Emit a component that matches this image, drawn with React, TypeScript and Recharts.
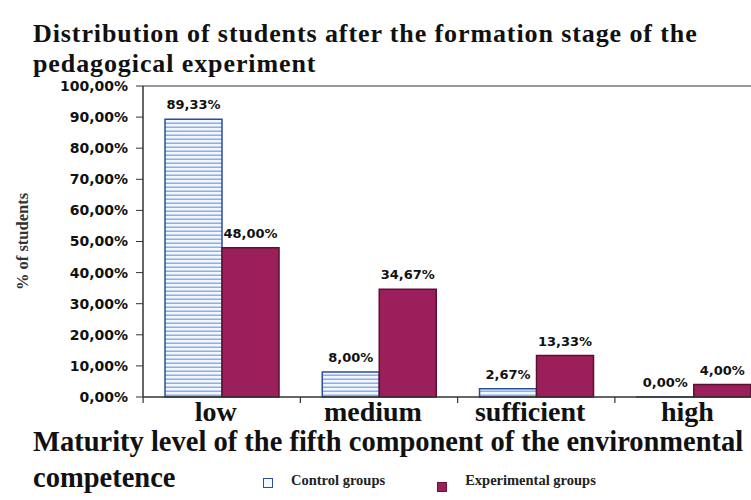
import React from "react";
import { BarChart, Bar, XAxis, YAxis, LabelList, Legend, ReferenceLine } from "recharts";

// maturity levels and the share of students (%) in each group
const levels = ["low", "medium", "sufficient", "high"];
const controlGroups = [89.33, 8.0, 2.67, 0.0];
const experimentalGroups = [48.0, 34.67, 13.33, 4.0];
const yTicks = [0, 10, 20, 30, 40, 50, 60, 70, 80, 90, 100];

const data = levels.map((level, i) => ({
  level,
  control: controlGroups[i],
  experimental: experimentalGroups[i],
}));

const pct = (v: number) => v.toFixed(2).replace(".", ",") + "%";

const serif = "'Liberation Serif', 'Times New Roman', serif";
const heavy = "'DejaVu Sans', sans-serif";

// category label plus a small tick mark on the left edge of each band
const LevelTick = ({ x, y, payload }: any) => (
  <g>
    <line x1={x - 78.5} x2={x - 78.5} y1={y} y2={y + 6} stroke="#333" strokeWidth={1.2} />
    <text x={x - 6} y={y + 24} textAnchor="middle" fontFamily={serif} fontWeight={700} fontSize={28} fill="#111">
      {payload.value}
    </text>
  </g>
);

const LegendBox = ({ payload }: any) => (
  <div style={{ display: "flex", alignItems: "center", fontFamily: serif, fontWeight: 700, fontSize: 14.5, color: "#222" }}>
    {(payload || []).map((p: any, i: number) => (
      <div key={p.value} style={{ display: "flex", alignItems: "center", marginRight: i === 0 ? 52 : 0 }}>
        <span
          style={{
            display: "inline-block",
            width: 8,
            height: 8,
            marginTop: i === 0 ? 6 : 14,
            marginRight: 18,
            background: i === 0 ? "#f4f8ff" : "#9b1f5a",
            border: i === 0 ? "1.5px solid #2b4f94" : "1px solid #6a1238",
          }}
        />
        <span>{p.value}</span>
      </div>
    ))}
  </div>
);

const labelStyle = { fontFamily: heavy, fontWeight: 900, fontSize: 13, fill: "#111" };

export default function App() {
  return (
    <div style={{ position: "absolute", left: 0, top: 0, width: 751, height: 500, overflow: "hidden", background: "#fff" }}>
      <div
        style={{
          position: "absolute",
          left: 33,
          top: 19,
          fontFamily: serif,
          fontWeight: 700,
          fontSize: 26,
          letterSpacing: 0.9,
          lineHeight: "30px",
          color: "#111",
          whiteSpace: "nowrap",
        }}
      >
        Distribution of students after the formation stage of the
        <br />
        pedagogical experiment
      </div>
      <div
        style={{
          position: "absolute",
          left: 33,
          top: 424,
          fontFamily: serif,
          fontWeight: 700,
          fontSize: 28.5,
          lineHeight: "36px",
          color: "#111",
          whiteSpace: "nowrap",
        }}
      >
        Maturity level of the fifth component of the environmental
        <br />
        competence
      </div>
      <BarChart
        width={772}
        height={500}
        data={data}
        margin={{ top: 86, right: 0, bottom: 49, left: 0 }}
        barCategoryGap="14%"
        barGap={0}
      >
        <defs>
          <pattern id="stripes" width="6" height="4" patternUnits="userSpaceOnUse">
            <rect width="6" height="4" fill="#f2f6ff" />
            <rect y="2.5" width="6" height="1.5" fill="#8eaee6" />
          </pattern>
        </defs>
        <XAxis
          dataKey="level"
          height={30}
          axisLine={{ stroke: "#333", strokeWidth: 1.5 }}
          tickLine={false}
          tickSize={0}
          tickMargin={0}
          tick={<LevelTick />}
        />
        <YAxis
          width={143}
          domain={[0, 100]}
          ticks={yTicks}
          interval={0}
          tickFormatter={pct}
          axisLine={{ stroke: "#333", strokeWidth: 1.5 }}
          tickLine={{ stroke: "#333" }}
          tickSize={7}
          tickMargin={8}
          tick={{ fill: "#111", fontFamily: heavy, fontWeight: 900, fontSize: 14 }}
          label={{
            value: "% of students",
            angle: -90,
            position: "insideLeft",
            offset: 22,
            style: { fontFamily: serif, fontWeight: 700, fontSize: 16.5, fill: "#333", textAnchor: "middle" },
          }}
        />
        <ReferenceLine y={100} stroke="#777" strokeWidth={1.5} />
        <Legend
          content={<LegendBox />}
          wrapperStyle={{ position: "absolute", left: 263, top: 468, width: 440, bottom: "auto" }}
        />
        <Bar
          dataKey="control"
          name="Control groups"
          fill="url(#stripes)"
          stroke="#2b4f94"
          strokeWidth={1.5}
          minPointSize={0.01}
          isAnimationActive={false}
        >
          <LabelList dataKey="control" position="top" offset={10} formatter={(v: any) => pct(Number(v))} style={labelStyle} />
        </Bar>
        <Bar dataKey="experimental" name="Experimental groups" fill="#9b1f5a" stroke="#5e1032" strokeWidth={1.5} isAnimationActive={false}>
          <LabelList dataKey="experimental" position="top" offset={10} formatter={(v: any) => pct(Number(v))} style={labelStyle} />
        </Bar>
      </BarChart>
    </div>
  );
}
